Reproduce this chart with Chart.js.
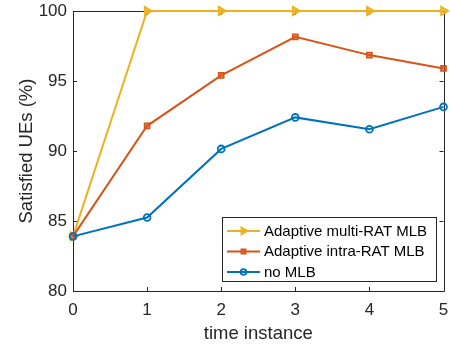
<!DOCTYPE html>
<html lang="en">
<head>
  <meta charset="UTF-8" />
  <title>Satisfied UEs</title>
  <script src="https://cdn.jsdelivr.net/npm/chart.js"></script>
  <style>
    html, body { margin: 0; padding: 0; background: #fff; }
    #wrap { width: 450px; height: 345px; }
  </style>
</head>
<body>
  <div id="wrap"><canvas id="ueChart" width="450" height="345"></canvas></div>
  <script>
    // values
    const timeInstances = [0, 1, 2, 3, 4, 5];
    const multiRat = [83.9, 100, 100, 100, 100, 100];
    const intraRat = [83.9, 91.8, 95.4, 98.15, 96.85, 95.9];
    const noMlb = [83.9, 85.25, 90.15, 92.4, 91.55, 93.15];
    const yTicks = [80, 85, 90, 95, 100];
    const seriesNames = ["Adaptive multi-RAT MLB", "Adaptive intra-RAT MLB", "no MLB"];

    const axisColor = "#262626";
    const font = "'Liberation Sans', Arial, sans-serif";

    function pts(vals) {
      return vals.map((v, i) => ({ x: timeInstances[i], y: v }));
    }

    // MATLAB style box with inward ticks, drawn under the lines
    const boxPlugin = {
      id: "boxPlugin",
      beforeDatasetsDraw(chart) {
        const ctx = chart.ctx;
        const a = chart.chartArea;
        const xs = chart.scales.x, ys = chart.scales.y;
        ctx.save();
        ctx.strokeStyle = axisColor;
        ctx.lineWidth = 1;
        ctx.beginPath();
        ctx.rect(Math.round(a.left) + 0.5, Math.round(a.top) + 0.5,
          Math.round(a.right - a.left), Math.round(a.bottom - a.top));
        ctx.stroke();
        ctx.beginPath();
        timeInstances.forEach(t => {
          const px = Math.round(xs.getPixelForValue(t)) + 0.5;
          ctx.moveTo(px, a.bottom); ctx.lineTo(px, a.bottom - 4);
          ctx.moveTo(px, a.top); ctx.lineTo(px, a.top + 4);
        });
        yTicks.forEach(v => {
          const py = Math.round(ys.getPixelForValue(v)) + 0.5;
          ctx.moveTo(a.left, py); ctx.lineTo(a.left + 4, py);
          ctx.moveTo(a.right, py); ctx.lineTo(a.right - 4, py);
        });
        ctx.stroke();
        ctx.restore();
      },
      // legend box inside the axes
      afterDraw(chart) {
        const ctx = chart.ctx;
        ctx.save();
        const lx = 222.5, ly = 217.5, lw = 214, lh = 64;
        ctx.fillStyle = "#fff";
        ctx.strokeStyle = axisColor;
        ctx.lineWidth = 1;
        ctx.fillRect(lx, ly, lw, lh);
        ctx.strokeRect(lx, ly, lw, lh);
        const rows = [231, 251.5, 272];
        ctx.font = "15px " + font;
        ctx.textBaseline = "middle";
        chart.data.datasets.forEach((ds, i) => {
          const y = rows[i];
          ctx.strokeStyle = ds.borderColor;
          ctx.lineWidth = 2;
          ctx.beginPath();
          ctx.moveTo(227, y); ctx.lineTo(260, y);
          ctx.stroke();
          ctx.fillStyle = ds.pointBackgroundColor;
          ctx.lineWidth = ds.pointBorderWidth;
          Chart.helpers.drawPoint(ctx, {
            pointStyle: ds.pointStyle,
            rotation: ds.pointRotation || 0,
            radius: ds.pointRadius * 0.85,
            borderWidth: ds.pointBorderWidth
          }, 243.5, y);
          ctx.fillStyle = "#000";
          ctx.fillText(seriesNames[i], 264, y + 0.5);
        });
        ctx.restore();
      }
    };

    new Chart(document.getElementById("ueChart"), {
      type: "line",
      data: {
        datasets: [
          {
            label: seriesNames[0], data: pts(multiRat),
            borderColor: "#EDB120", borderWidth: 2,
            pointStyle: "triangle", pointRotation: 90, pointRadius: 4.5,
            pointBorderWidth: 2, pointBorderColor: "#EDB120",
            pointBackgroundColor: "rgba(237,177,32,0.6)",
            order: 3, clip: false, tension: 0
          },
          {
            label: seriesNames[1], data: pts(intraRat),
            borderColor: "#D95319", borderWidth: 2,
            pointStyle: "rect", pointRadius: 3.6,
            pointBorderWidth: 1.6, pointBorderColor: "#D95319",
            pointBackgroundColor: "rgba(217,83,25,0.6)",
            order: 2, clip: false, tension: 0
          },
          {
            label: seriesNames[2], data: pts(noMlb),
            borderColor: "#0072BD", borderWidth: 2,
            pointStyle: "circle", pointRadius: 3.4,
            pointBorderWidth: 1.8, pointBorderColor: "#0072BD",
            pointBackgroundColor: "rgba(0,0,0,0)",
            order: 1, clip: false, tension: 0
          }
        ]
      },
      options: {
        responsive: false,
        animation: false,
        events: [],
        layout: { padding: { top: 11, right: 4, left: 0, bottom: 0 } },
        plugins: { legend: { display: false }, tooltip: { enabled: false } },
        scales: {
          x: {
            type: "linear", min: 0, max: 5,
            afterFit: s => { s.height = 54; s.paddingLeft = 0; s.paddingRight = 0; },
            grid: { display: false, drawTicks: false },
            border: { display: false },
            ticks: {
              stepSize: 1, padding: 9, color: axisColor,
              font: { family: font, size: 17 }
            },
            title: {
              display: true, text: "time instance", color: axisColor,
              font: { family: font, size: 18.5 }, padding: { top: 0, bottom: 0 }
            }
          },
          y: {
            min: 80, max: 100,
            afterFit: s => { s.width = 73; s.paddingTop = 0; s.paddingBottom = 0; },
            grid: { display: false, drawTicks: false },
            border: { display: false },
            ticks: {
              stepSize: 5, padding: 6, color: axisColor,
              font: { family: font, size: 17 }
            },
            title: {
              display: true, text: "Satisfied UEs (%)", color: axisColor,
              font: { family: font, size: 18.5 }, padding: { top: 16, bottom: 0 }
            }
          }
        }
      },
      plugins: [boxPlugin]
    });
  </script>
</body>
</html>
